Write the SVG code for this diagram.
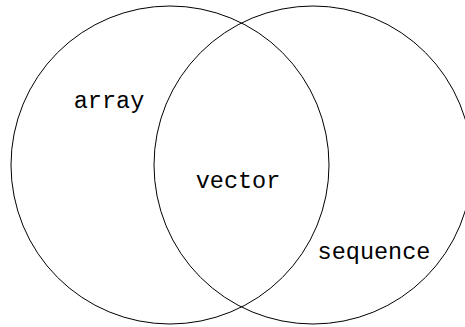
<svg xmlns="http://www.w3.org/2000/svg" width="465" height="327" viewBox="0 0 465 327">
  <style>
    .set { fill: none; stroke: #000; stroke-width: 1; }
    .label { font-family: "Liberation Mono", "DejaVu Sans Mono", monospace; font-size: 23.5px; fill: #000; text-anchor: middle; }
  </style>
  <rect width="465" height="327" fill="#fff"/>
  <g id="array">
    <circle class="set" cx="170" cy="165" r="159"/>
    <text class="label" x="109" y="108">array</text>
  </g>
  <g id="sequence">
    <circle class="set" cx="313" cy="165" r="159"/>
    <text class="label" x="374" y="259">sequence</text>
  </g>
  <g id="vector">
    <text class="label" x="238" y="188">vector</text>
  </g>
  <g id="connectors"></g>
</svg>
